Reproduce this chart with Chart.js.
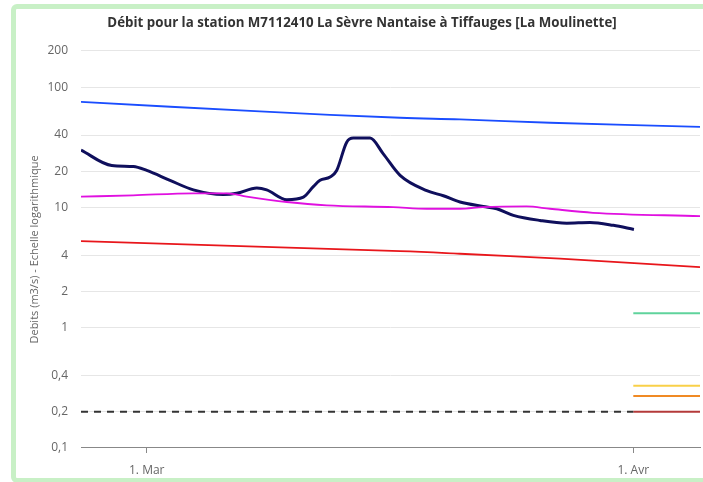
<!DOCTYPE html>
<html>
<head>
<meta charset="utf-8">
<script src="https://cdn.jsdelivr.net/npm/chart.js@4.4.1/dist/chart.umd.min.js"></script>
<style>
  html, body { margin: 0; padding: 0; background: #fff; overflow: hidden; width: 703px; height: 482px; }
  #frame { position: absolute; left: 11px; top: 4px; width: 700px; height: 469px; border: 5px solid #c8f0c6; border-radius: 6px; }
  #wrap { position: absolute; left: 0; top: 0; width: 687px; height: 469px; }
</style>
</head>
<body>
<div id="frame"><div id="wrap"><canvas id="debitChart"></canvas></div></div>
<script>
// x values are days counted from 1 March
const xMin = -4.19;
const xMax = 35.25;
const xTicks = [0, 31];
const xTickLabels = ['1. Mar', '1. Avr'];
const yTicks = [0.1, 0.2, 0.4, 1, 2, 4, 10, 20, 40, 100, 200];

// observed flow (dark navy)
const obsDays = [-4.19, -2.23, -0.85, 0, 1.48, 2.97, 4.88, 5.73, 7.01, 7.64, 8.92, 9.98, 10.61, 11.04, 11.68, 12.10, 12.74, 13.16, 14.23, 15.07, 16.14, 17.84, 18.9, 19.96, 21.44, 22.3, 23.36, 25.06, 26.76, 28.24, 29.73, 31.04];
const obsFlow = [30, 22.3, 21.9, 20.3, 16.8, 14.0, 12.8, 13.1, 14.5, 14.0, 11.6, 12.2, 14.9, 16.8, 17.9, 20.3, 34.9, 37.7, 37.7, 27.9, 18.5, 13.8, 12.5, 11.1, 10.2, 9.75, 8.6, 7.8, 7.4, 7.5, 7.1, 6.56];

// blue curve
const highDays = [-4.19, 7.2, 16.14, 19.96, 25.7, 35.25];
const highFlow = [75.6, 62.8, 55.7, 53.9, 50.6, 46.7];

// magenta curve
const medDays = [-4.19, -0.87, 2.95, 5.1, 6.37, 8.92, 11.47, 15.69, 17.84, 19.96, 21.42, 24.2, 25.69, 28.43, 35.25];
const medFlow = [12.3, 12.6, 13.1, 13.1, 12.3, 11.1, 10.4, 10.06, 9.75, 9.75, 10.06, 10.2, 9.75, 9.03, 8.47];

// red curve
const lowDays = [-4.19, 16.14, 19.96, 26.33, 35.25];
const lowFlow = [5.25, 4.33, 4.12, 3.75, 3.19];

// dashed level and threshold segments
const dashedLevel = 0.2;
const thresholdValues = [1.32, 0.33, 0.27, 0.2];
const thresholdColors = ['#5fd39c', '#f9d048', '#f08a24', '#b43a3a'];

function toPoints(xs, ys) {
    return xs.map((x, i) => ({ x: x, y: ys[i] }));
}

const datasets = [
    { data: toPoints(highDays, highFlow), borderColor: '#1a4dff', borderWidth: 1.8, tension: 0.4 },
    { data: toPoints(medDays, medFlow), borderColor: '#e010e0', borderWidth: 1.8, cubicInterpolationMode: 'monotone' },
    { data: toPoints(lowDays, lowFlow), borderColor: '#e8161b', borderWidth: 1.8, tension: 0.4 },
    { data: toPoints([xMin, 31], [dashedLevel, dashedLevel]), borderColor: '#333', borderWidth: 2, borderDash: [7, 6] },
    { data: toPoints(obsDays, obsFlow), borderColor: '#0f0f5c', borderWidth: 3, cubicInterpolationMode: 'monotone' }
];
thresholdValues.forEach((v, i) => {
    datasets.push({ data: toPoints([31, xMax], [v, v]), borderColor: thresholdColors[i], borderWidth: 2 });
});
datasets.forEach(d => { d.pointRadius = 0; d.fill = false; });

Chart.defaults.font.family = '"Open Sans", sans-serif';
Chart.defaults.color = '#666';

const ctx = document.getElementById('debitChart').getContext('2d');
new Chart(ctx, {
    type: 'line',
    data: { datasets: datasets },
    options: {
        responsive: true,
        maintainAspectRatio: false,
        animation: false,
        layout: { padding: { left: 8, right: 3, top: 0, bottom: 0 } },
        plugins: {
            legend: { display: false },
            tooltip: { enabled: false },
            title: {
                display: true,
                text: 'Débit pour la station M7112410 La Sèvre Nantaise à Tiffauges [La Moulinette]',
                color: '#333',
                font: { size: 13.3, weight: 'bold' },
                padding: { top: 6, bottom: 20 }
            }
        },
        scales: {
            x: {
                type: 'linear',
                min: xMin,
                max: xMax,
                afterBuildTicks: axis => { axis.ticks = xTicks.map(v => ({ value: v })); },
                afterFit: axis => { axis.height = 30; },
                ticks: {
                    font: { size: 12 },
                    padding: 10,
                    maxRotation: 0,
                    callback: v => xTickLabels[xTicks.indexOf(v)]
                },
                grid: { drawOnChartArea: false, drawTicks: true, tickLength: 5, tickColor: '#888' },
                border: { display: true, color: '#888', width: 1 }
            },
            y: {
                type: 'logarithmic',
                min: 0.1,
                max: 200,
                afterBuildTicks: axis => { axis.ticks = yTicks.map(v => ({ value: v })); },
                afterFit: axis => { axis.width = 57; },
                ticks: {
                    font: { size: 12 },
                    padding: 13,
                    callback: v => String(v).replace('.', ',')
                },
                grid: { color: '#e6e6e6', drawTicks: false },
                border: { display: false },
                title: {
                    display: true,
                    text: 'Debits (m3/s) - Echelle logarithmique',
                    font: { size: 11 },
                    color: '#666'
                }
            }
        }
    }
});
</script>
</body>
</html>
